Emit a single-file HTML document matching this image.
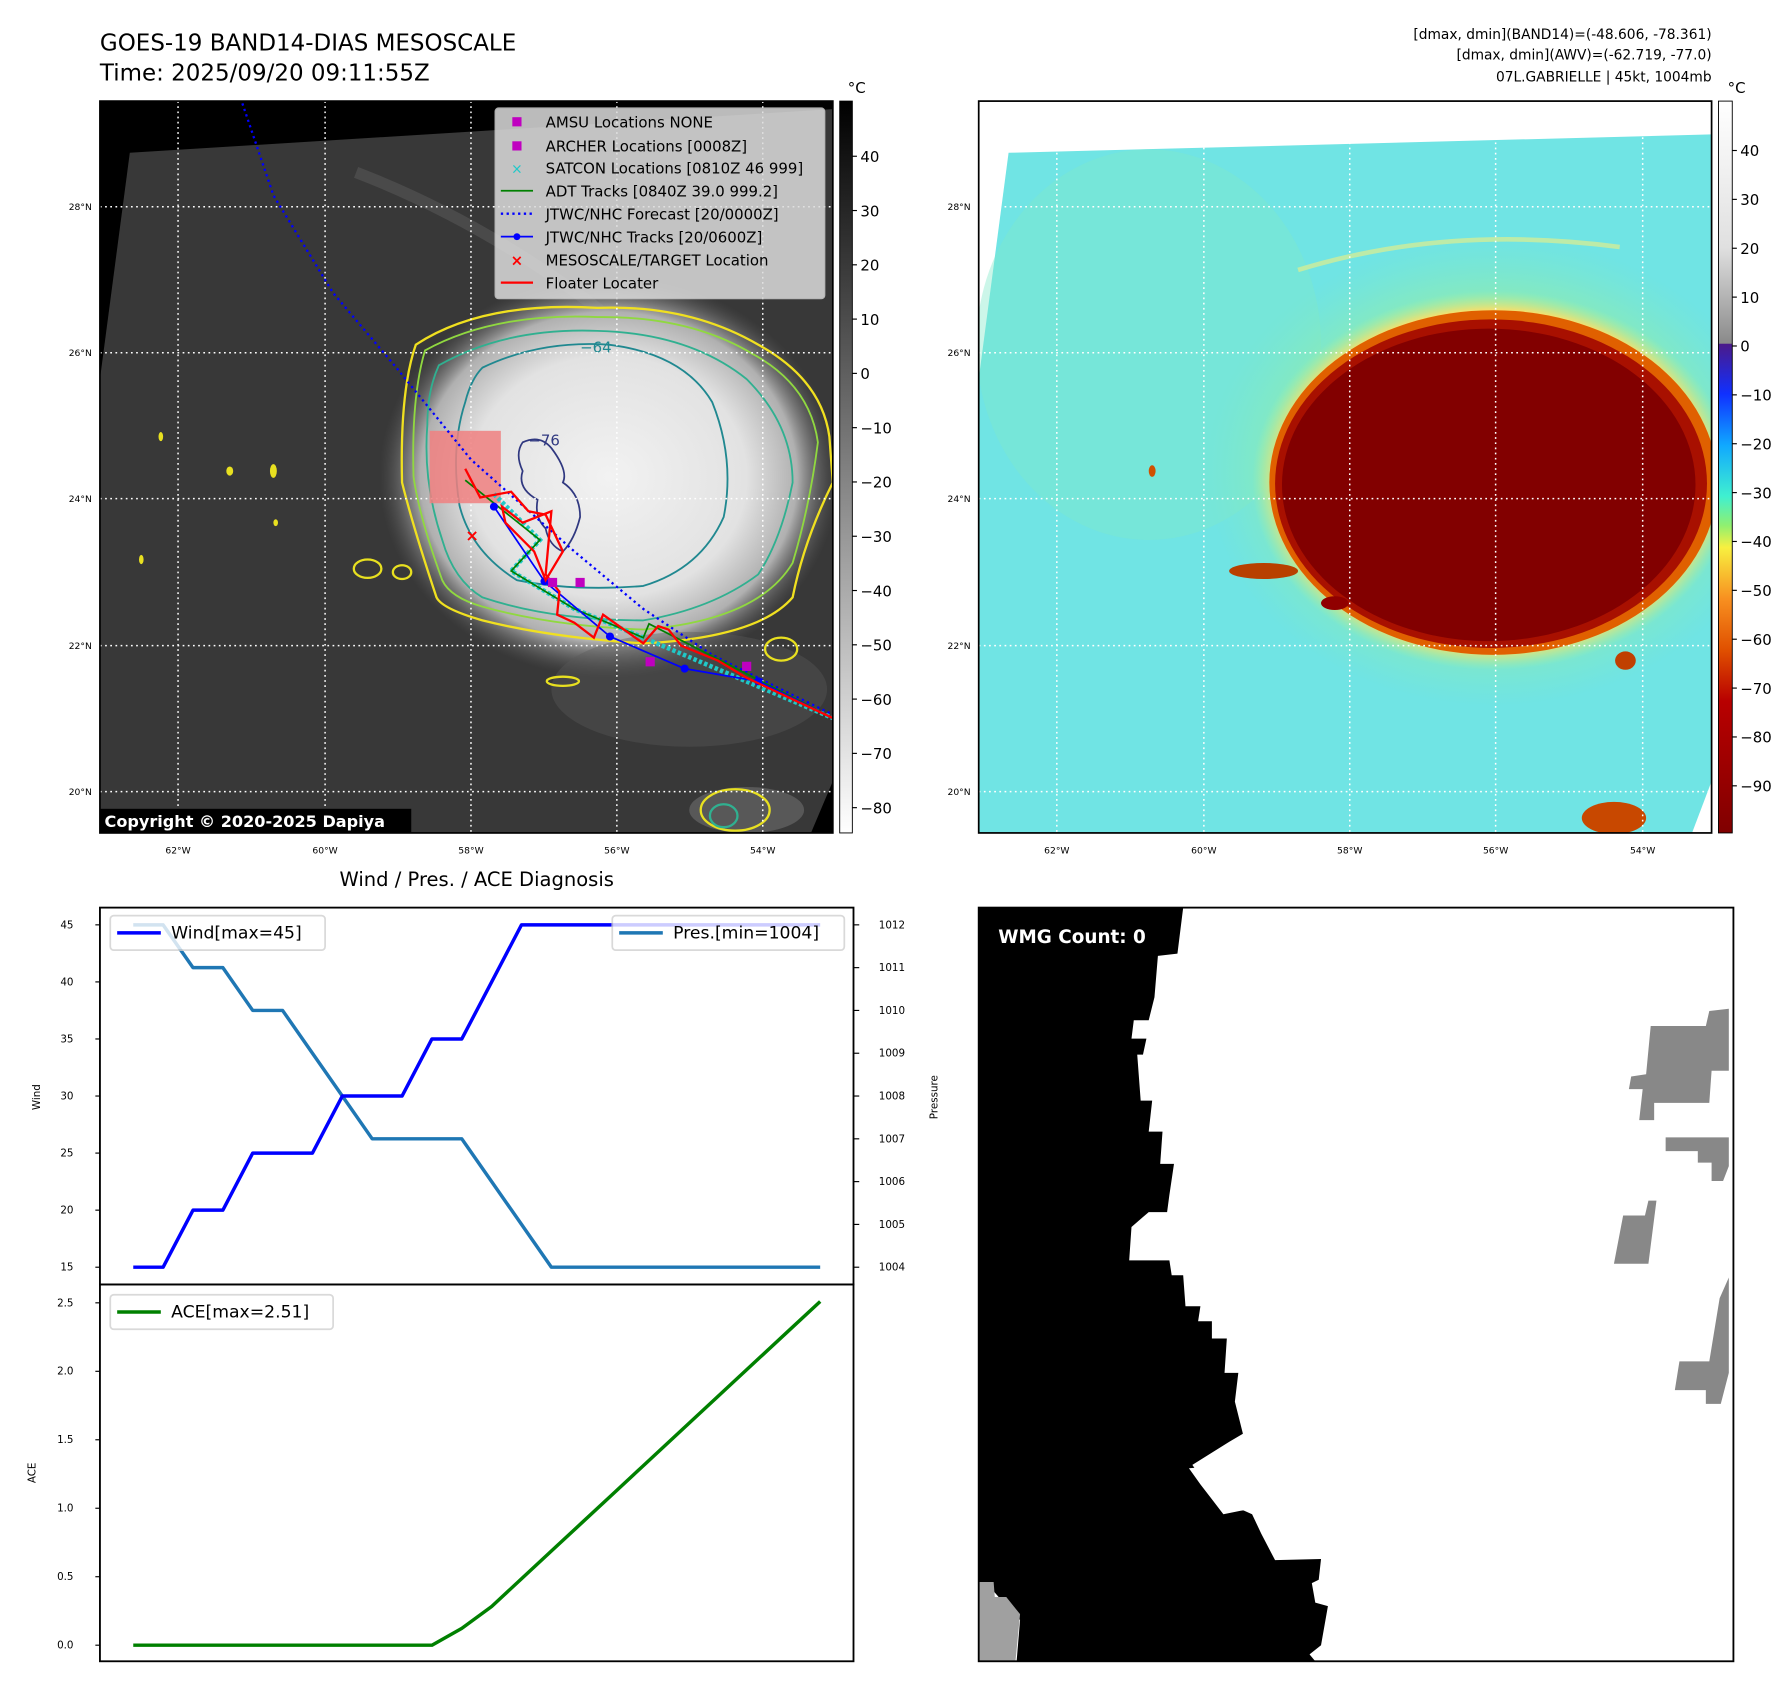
<!DOCTYPE html>
<html><head><meta charset="utf-8"><style>
html,body{margin:0;padding:0;background:#fff}
svg{display:block}
text{font-family:"DejaVu Sans","Liberation Sans",sans-serif}
</style></head><body>
<svg id="root" width="1792" height="1690" viewBox="0 0 1560 1471" preserveAspectRatio="none" xmlns="http://www.w3.org/2000/svg">
<defs>
<radialGradient id="cloud" cx="0.5" cy="0.5" r="0.5">
<stop offset="0" stop-color="#f2f2f2"/><stop offset="0.6" stop-color="#e2e2e2"/><stop offset="0.82" stop-color="#b0b0b0"/><stop offset="1" stop-color="#5a5a5a" stop-opacity="0"/>
</radialGradient>
<linearGradient id="cbL" x1="0" y1="0" x2="0" y2="1"><stop offset="0" stop-color="#000"/><stop offset="1" stop-color="#fff"/></linearGradient>
<linearGradient id="cbR" x1="0" y1="0" x2="0" y2="1">
<stop offset="0" stop-color="#ffffff"/><stop offset="0.2" stop-color="#e0e0e0"/><stop offset="0.331" stop-color="#8a8a8a"/>
<stop offset="0.332" stop-color="#4b1a8a"/><stop offset="0.4" stop-color="#1030ff"/><stop offset="0.47" stop-color="#10a8ff"/>
<stop offset="0.54" stop-color="#40f0d0"/><stop offset="0.58" stop-color="#90f070"/><stop offset="0.61" stop-color="#f8f040"/>
<stop offset="0.68" stop-color="#f89020"/><stop offset="0.75" stop-color="#e05000"/><stop offset="0.82" stop-color="#b80000"/><stop offset="1" stop-color="#800000"/>
</linearGradient>
<clipPath id="clipL"><rect x="87" y="88" width="638" height="637"/></clipPath>
<clipPath id="clipR"><rect x="852" y="88" width="638" height="637"/></clipPath>
<radialGradient id="ringR" cx="0.5" cy="0.5" r="0.5"><stop offset="0.75" stop-color="#f0a030"/><stop offset="0.9" stop-color="#f0e070"/><stop offset="1" stop-color="#a8f0a0" stop-opacity="0"/></radialGradient>
<radialGradient id="greenR" cx="0.5" cy="0.5" r="0.5"><stop offset="0" stop-color="#a8f090"/><stop offset="0.7" stop-color="#98eea0" stop-opacity="0.7"/><stop offset="1" stop-color="#80e8c0" stop-opacity="0"/></radialGradient>
</defs>

<text x="87" y="44" font-size="20">GOES-19 BAND14-DIAS MESOSCALE</text>
<text x="87" y="70" font-size="20">Time: 2025/09/20 09:11:55Z</text>
<g font-size="12" text-anchor="end">
<text x="1490" y="34">[dmax, dmin](BAND14)=(-48.606, -78.361)</text>
<text x="1490" y="52">[dmax, dmin](AWV)=(-62.719, -77.0)</text>
<text x="1490" y="71">07L.GABRIELLE | 45kt, 1004mb</text>
</g>

<!-- LEFT MAP -->
<g clip-path="url(#clipL)">
<rect x="87" y="88" width="638" height="637" fill="#000"/>
<polygon points="113,133 725,95 725,680 706,725 87,725 87,330" fill="#383838"/>
<path d="M310,150 Q440,200 560,300" stroke="#666" stroke-width="10" fill="none" opacity="0.4"/>
<ellipse cx="530" cy="415" rx="200" ry="175" fill="url(#cloud)"/>
<ellipse cx="600" cy="600" rx="120" ry="50" fill="#5a5a5a" opacity="0.4"/>
<ellipse cx="650" cy="705" rx="50" ry="20" fill="#777" opacity="0.5"/>
<path d="M362,300 Q420,262 520,268 Q600,265 660,300 Q715,330 722,380 L725,420 Q700,470 690,520 Q660,555 560,560 Q480,555 420,540 Q385,530 380,520 Q360,460 350,420 Q348,340 362,300Z" fill="none" stroke="#f0e020" stroke-width="2"/>
<path d="M370,305 Q430,272 520,276 Q600,275 655,308 Q705,335 712,385 Q705,440 690,490 Q660,540 560,548 Q480,545 420,528 Q392,520 385,505 Q365,450 360,415 Q358,345 370,305Z" fill="none" stroke="#90d840" stroke-width="1.6"/>
<path d="M382,318 Q440,285 520,288 Q600,290 650,330 Q690,370 690,420 Q680,470 660,500 Q620,530 560,540 Q480,540 420,520 Q395,505 385,470 Q368,420 372,370 Q372,340 382,318Z" fill="none" stroke="#30b090" stroke-width="1.6"/>
<path d="M420,320 Q470,296 530,300 Q595,308 620,350 Q640,400 630,450 Q610,495 560,510 Q500,515 450,505 Q410,480 400,440 Q392,390 405,350 Q410,330 420,320Z" fill="none" stroke="#208890" stroke-width="1.6"/>
<path d="M455,385 Q470,378 480,390 Q495,410 490,420 Q505,430 505,450 Q500,470 490,480 Q478,475 475,460 Q465,450 468,435 Q450,425 455,410 Q448,395 455,385Z" fill="none" stroke="#303880" stroke-width="1.5"/>
<text x="505" y="307" font-size="13" fill="#208890">−64</text>
<text x="460" y="388" font-size="13" fill="#303880">−76</text>
<g fill="#e8e020">
<ellipse cx="238" cy="410" rx="3" ry="6"/><ellipse cx="200" cy="410" rx="3" ry="4"/><ellipse cx="140" cy="380" rx="2" ry="4"/><ellipse cx="123" cy="487" rx="2" ry="4"/><ellipse cx="240" cy="455" rx="2" ry="3"/>
<ellipse cx="320" cy="495" rx="12" ry="8" fill="none" stroke="#e8e020" stroke-width="2"/><ellipse cx="350" cy="498" rx="8" ry="6" fill="none" stroke="#e8e020" stroke-width="2"/>
<ellipse cx="490" cy="593" rx="14" ry="4" fill="none" stroke="#e8e020" stroke-width="2"/>
<ellipse cx="640" cy="705" rx="30" ry="18" fill="none" stroke="#e8e020" stroke-width="2"/><ellipse cx="630" cy="710" rx="12" ry="10" fill="none" stroke="#30b090" stroke-width="2"/>
<ellipse cx="680" cy="565" rx="14" ry="10" fill="none" stroke="#e8e020" stroke-width="2"/>
</g>
<g stroke="#fff" stroke-width="1.3" stroke-dasharray="1.5,3">
<line x1="155" y1="88" x2="155" y2="725"/><line x1="283" y1="88" x2="283" y2="725"/><line x1="410" y1="88" x2="410" y2="725"/><line x1="537" y1="88" x2="537" y2="725"/><line x1="664" y1="88" x2="664" y2="725"/>
<line x1="87" y1="180" x2="725" y2="180"/><line x1="87" y1="307" x2="725" y2="307"/><line x1="87" y1="434" x2="725" y2="434"/><line x1="87" y1="562" x2="725" y2="562"/><line x1="87" y1="689" x2="725" y2="689"/>
</g>
<rect x="374" y="375" width="62" height="63" fill="#f08080" opacity="0.85"/>
<polyline points="211,90 238,170 290,255 345,320 410,400 455,440 500,480 560,530 620,570 680,600 725,622" fill="none" stroke="#0000ff" stroke-width="2" stroke-dasharray="2,3"/>
<g stroke="#20c8c8" stroke-width="4" stroke-dasharray="3,2" fill="none"><polyline points="430,430 470,470 445,497 500,530 560,555 725,625"/></g>
<polyline points="405,418 470,470 445,497 500,530 560,555 565,543 725,625" fill="none" stroke="#008000" stroke-width="1.5"/>
<polyline points="430,441 474,506 531,554 596,582 660,593 725,625" fill="none" stroke="#0000ff" stroke-width="1.5"/>
<g fill="#0000ff"><circle cx="430" cy="441" r="3.5"/><circle cx="474" cy="506" r="3.5"/><circle cx="531" cy="554" r="3.5"/><circle cx="596" cy="582" r="3.5"/><circle cx="660" cy="593" r="3.5"/></g>
<polyline points="405,408 418,433 445,428 460,445 475,448 490,480 475,505 465,480 440,455 437,441 455,455 480,445 475,500 487,515 485,535 500,542 517,555 525,535 560,560 573,545 582,548 593,562 625,575 650,590 725,625" fill="none" stroke="#ff0000" stroke-width="2"/>
<g fill="#c000c0"><rect x="477" y="503" width="8" height="8"/><rect x="501" y="503" width="8" height="8"/><rect x="562" y="572" width="8" height="8"/><rect x="646" y="576" width="8" height="8"/></g>
<text x="411" y="471" font-size="14" fill="#ff0000" text-anchor="middle" font-weight="bold">×</text>
</g>
<rect x="87" y="88" width="638" height="637" fill="none" stroke="#000" stroke-width="1.5"/>
<g>
<rect x="431" y="94" width="287" height="166" rx="3" fill="#dcdcdc" opacity="0.85" stroke="#ccc"/>
<g font-size="13">
<rect x="446" y="102" width="8" height="8" fill="#c000c0"/><text x="475" y="111">AMSU Locations NONE</text>
<rect x="446" y="123" width="8" height="8" fill="#c000c0"/><text x="475" y="132">ARCHER Locations [0008Z]</text>
<text x="450" y="151" fill="#20c8c8" text-anchor="middle" font-size="12">×</text><text x="475" y="151">SATCON Locations [0810Z 46 999]</text>
<line x1="436" y1="166" x2="464" y2="166" stroke="#008000" stroke-width="1.5"/><text x="475" y="171">ADT Tracks [0840Z 39.0 999.2]</text>
<line x1="436" y1="186" x2="464" y2="186" stroke="#0000ff" stroke-width="2" stroke-dasharray="2,3"/><text x="475" y="191">JTWC/NHC Forecast [20/0000Z]</text>
<line x1="436" y1="206" x2="464" y2="206" stroke="#0000ff" stroke-width="1.5"/><circle cx="450" cy="206" r="3" fill="#0000ff"/><text x="475" y="211">JTWC/NHC Tracks [20/0600Z]</text>
<text x="450" y="231" fill="#ff0000" text-anchor="middle" font-weight="bold" font-size="13">×</text><text x="475" y="231">MESOSCALE/TARGET Location</text>
<line x1="436" y1="246" x2="464" y2="246" stroke="#ff0000" stroke-width="2"/><text x="475" y="251">Floater Locater</text>
</g></g>
<rect x="87" y="704" width="271" height="21" fill="#000"/>
<text x="91" y="720" font-size="14" font-weight="bold" fill="#fff">Copyright © 2020-2025 Dapiya</text>
<g font-size="8" text-anchor="middle">
<text x="155" y="743">62°W</text><text x="283" y="743">60°W</text><text x="410" y="743">58°W</text><text x="537" y="743">56°W</text><text x="664" y="743">54°W</text></g>
<g font-size="8" text-anchor="end">
<text x="80" y="183">28°N</text><text x="80" y="310">26°N</text><text x="80" y="437">24°N</text><text x="80" y="565">22°N</text><text x="80" y="692">20°N</text></g>
<rect x="731" y="88" width="11" height="637" fill="url(#cbL)" stroke="#000" stroke-width="0.8"/>
<text x="738" y="81" font-size="13">°C</text>
<g id="cbLticks" font-size="13"></g>

<!-- RIGHT MAP -->
<g clip-path="url(#clipR)">
<rect x="852" y="88" width="638" height="637" fill="#fff"/>
<polygon points="878,133 1490,117 1490,680 1473,725 852,725 852,330" fill="#70e4e4"/>
<ellipse cx="1000" cy="300" rx="150" ry="170" fill="#80e8c8" opacity="0.4"/>
<ellipse cx="1300" cy="410" rx="250" ry="205" fill="url(#greenR)"/>
<path d="M1130,235 Q1260,195 1410,215" stroke="#f0f080" stroke-width="4" fill="none" opacity="0.6"/>
<ellipse cx="1300" cy="418" rx="210" ry="165" fill="url(#ringR)"/>
<ellipse cx="1300" cy="420" rx="195" ry="150" fill="#e06000"/>
<ellipse cx="1298" cy="421" rx="188" ry="143" fill="#a81000"/>
<ellipse cx="1296" cy="422" rx="180" ry="136" fill="#820000"/>
<ellipse cx="1100" cy="497" rx="30" ry="7" fill="#b84000"/>
<ellipse cx="1162" cy="525" rx="12" ry="6" fill="#900000"/>
<ellipse cx="1415" cy="575" rx="9" ry="8" fill="#c04000"/>
<ellipse cx="1405" cy="712" rx="28" ry="14" fill="#c84800"/>
<ellipse cx="1003" cy="410" rx="3" ry="5" fill="#d05000"/>
<g stroke="#fff" stroke-width="1.3" stroke-dasharray="1.5,3">
<line x1="920" y1="88" x2="920" y2="725"/><line x1="1048" y1="88" x2="1048" y2="725"/><line x1="1175" y1="88" x2="1175" y2="725"/><line x1="1302" y1="88" x2="1302" y2="725"/><line x1="1430" y1="88" x2="1430" y2="725"/>
<line x1="852" y1="180" x2="1490" y2="180"/><line x1="852" y1="307" x2="1490" y2="307"/><line x1="852" y1="434" x2="1490" y2="434"/><line x1="852" y1="562" x2="1490" y2="562"/><line x1="852" y1="689" x2="1490" y2="689"/>
</g></g>
<rect x="852" y="88" width="638" height="637" fill="none" stroke="#000" stroke-width="1.5"/>
<g font-size="8" text-anchor="middle">
<text x="920" y="743">62°W</text><text x="1048" y="743">60°W</text><text x="1175" y="743">58°W</text><text x="1302" y="743">56°W</text><text x="1430" y="743">54°W</text></g>
<g font-size="8" text-anchor="end">
<text x="845" y="183">28°N</text><text x="845" y="310">26°N</text><text x="845" y="437">24°N</text><text x="845" y="565">22°N</text><text x="845" y="692">20°N</text></g>
<rect x="1496" y="88" width="12" height="637" fill="url(#cbR)" stroke="#000" stroke-width="0.8"/>
<text x="1504" y="81" font-size="13">°C</text>
<g id="cbRticks" font-size="13"></g>

<text x="415" y="771" font-size="17" text-anchor="middle">Wind / Pres. / ACE Diagnosis</text>
<g id="charts"></g>
<rect x="87" y="790" width="656" height="328" fill="none" stroke="#000" stroke-width="1.6"/>
<rect x="87" y="1118" width="656" height="328" fill="none" stroke="#000" stroke-width="1.6"/>
<text transform="translate(35,955) rotate(-90)" font-size="9" text-anchor="middle">Wind</text>
<text transform="translate(816,955) rotate(-90)" font-size="9" text-anchor="middle">Pressure</text>
<text transform="translate(31,1282) rotate(-90)" font-size="9" text-anchor="middle">ACE</text>

<g>
<rect x="852" y="790" width="657" height="656" fill="#fff"/>
<polygon points="852,790 1030,790 1025,830 1008,832 1005,868 1000,888 987,888 985,904 998,904 995,918 990,918 993,958 1003,958 1000,985 1012,985 1010,1013 1022,1013 1018,1040 1016,1055 1000,1055 985,1068 983,1097 1018,1097 1020,1110 1030,1110 1032,1137 1045,1137 1043,1150 1055,1150 1055,1165 1068,1165 1066,1195 1078,1195 1075,1220 1082,1248 1070,1255 1038,1275 1048,1290 1060,1300 1072,1310 1090,1318 1098,1335 1110,1358 1150,1357 1148,1375 1142,1378 1145,1395 1156,1398 1150,1432 1140,1440 1145,1446 885,1446 888,1410 878,1400 865,1385 852,1380" fill="#000"/>
<polygon points="1035,1278 1072,1275 1078,1290 1092,1300 1105,1290 1100,1312 1080,1315 1065,1318 1055,1305 1045,1292" fill="#fff"/>
<polygon points="852,1377 865,1377 866,1390 876,1390 888,1405 884,1446 852,1446" fill="#a0a0a0"/>
<g fill="#888">
<polygon points="1437,893 1485,893 1488,880 1505,878 1505,932 1490,932 1488,960 1440,960 1440,975 1427,975 1430,948 1418,948 1420,937 1433,935"/>
<polygon points="1450,990 1505,990 1505,1015 1500,1028 1490,1028 1490,1012 1478,1012 1478,1002 1450,1002"/>
<polygon points="1413,1058 1432,1058 1435,1045 1442,1045 1435,1100 1405,1100"/>
<polygon points="1497,1130 1505,1112 1505,1195 1498,1222 1485,1222 1485,1210 1458,1210 1462,1185 1488,1185"/>
</g>
<text x="869" y="821" font-size="16" font-weight="bold" fill="#fff">WMG Count: 0</text>
<rect x="852" y="790" width="657" height="656" fill="none" stroke="#000" stroke-width="1.6"/>
</g>
</svg>
<script>
const windVals = [15,15,20,20,25,25,25,30,30,30,35,35,40,45,45,45,45,45,45,45,45,45,45,45];
const presVals = [1012,1012,1011,1011,1010,1010,1009,1008,1007,1007,1007,1007,1006,1005,1004,1004,1004,1004,1004,1004,1004,1004,1004,1004];
const aceVals = [0,0,0,0,0,0,0,0,0,0,0,0.1225,0.2825,0.485,0.6875,0.89,1.0925,1.295,1.4975,1.70,1.9025,2.105,2.3075,2.51];
const windTicks = [15,20,25,30,35,40,45];
const presTicks = [1004,1005,1006,1007,1008,1009,1010,1011,1012];
const aceTicks = [0.0,0.5,1.0,1.5,2.0,2.5];
const cbLeftTicks = [40,30,20,10,0,-10,-20,-30,-40,-50,-60,-70,-80];
const cbRightTicks = [40,30,20,10,0,-10,-20,-30,-40,-50,-60,-70,-80,-90];

const NS='http://www.w3.org/2000/svg';
function xS(i){return 116 + i*26;}
function windY(v){return 1103 - (v-15)*(298/30);}
function presY(p){return 1103 - (p-1004)*(298/8);}
function aceY(a){return 1432 - a*(298/2.5);}
function cbLY(v){return 136 + (40-v)*4.725;}
function cbRY(v){return 131 + (40-v)*4.2538;}
function mk(tag,attrs,parent){const e=document.createElementNS(NS,tag);for(const k in attrs)e.setAttribute(k,attrs[k]);parent.appendChild(e);return e;}
function fmt(v){return (v<0?'\u2212':'')+Math.abs(v);}

const charts=document.getElementById('charts');
windTicks.forEach(v=>{
  const y=windY(v);
  mk('line',{x1:83,y1:y,x2:87,y2:y,stroke:'#000','stroke-width':1},charts);
  const t=mk('text',{x:64,y:y+3,'font-size':9,'text-anchor':'end'},charts);t.textContent=v;
  
  
});
presTicks.forEach(v=>{
  const y=presY(v);
  mk('line',{x1:743,y1:y,x2:748,y2:y,stroke:'#000','stroke-width':1},charts);
  const t=mk('text',{x:765,y:y+3,'font-size':9},charts);t.textContent=v;
  
  
});
aceTicks.forEach(v=>{
  const y=aceY(v);
  mk('line',{x1:83,y1:y,x2:87,y2:y,stroke:'#000','stroke-width':1},charts);
  const t=mk('text',{x:64,y:y+3,'font-size':9,'text-anchor':'end'},charts);t.textContent=v.toFixed(1);
  
  
});
function line(vals,yf,color,name){
  const p=mk('polyline',{points:vals.map((v,i)=>xS(i)+','+yf(v)).join(' '),fill:'none',stroke:color,'stroke-width':3,'stroke-linejoin':'round'},charts);
  
  
}
line(presVals,presY,'#1f77b4','pressure-line');
line(windVals,windY,'#0000ff','wind-line');
line(aceVals,aceY,'#008000','ace-line');
function legend(x,y,w,color,label,name){
  const g=mk('g',{},charts);
  
  
  mk('rect',{x:x,y:y,width:w,height:30,rx:3,fill:'#fff',opacity:0.8,stroke:'#d0d0d0','stroke-width':1.5},g);
  mk('line',{x1:x+6,y1:y+15,x2:x+44,y2:y+15,stroke:color,'stroke-width':3},g);
  const t=mk('text',{x:x+53,y:y+20,'font-size':15},g);t.textContent=label;
}
legend(96,797,187,'#0000ff','Wind[max='+Math.max(...windVals)+']','wind-legend');
legend(533,797,202,'#1f77b4','Pres.[min='+Math.min(...presVals)+']','pressure-legend');
legend(96,1127,194,'#008000','ACE[max='+Math.max(...aceVals).toFixed(2)+']','ace-legend');
const gl=document.getElementById('cbLticks');
cbLeftTicks.forEach(v=>{const y=cbLY(v);mk('line',{x1:742,y1:y,x2:746,y2:y,stroke:'#000'},gl);
  const t=mk('text',{x:749,y:y+5},gl);t.textContent=fmt(v);
  
  });
const gr=document.getElementById('cbRticks');
cbRightTicks.forEach(v=>{const y=cbRY(v);mk('line',{x1:1508,y1:y,x2:1512,y2:y,stroke:'#000'},gr);
  const t=mk('text',{x:1515,y:y+5},gr);t.textContent=fmt(v);
  
  });
</script>
</body></html>
